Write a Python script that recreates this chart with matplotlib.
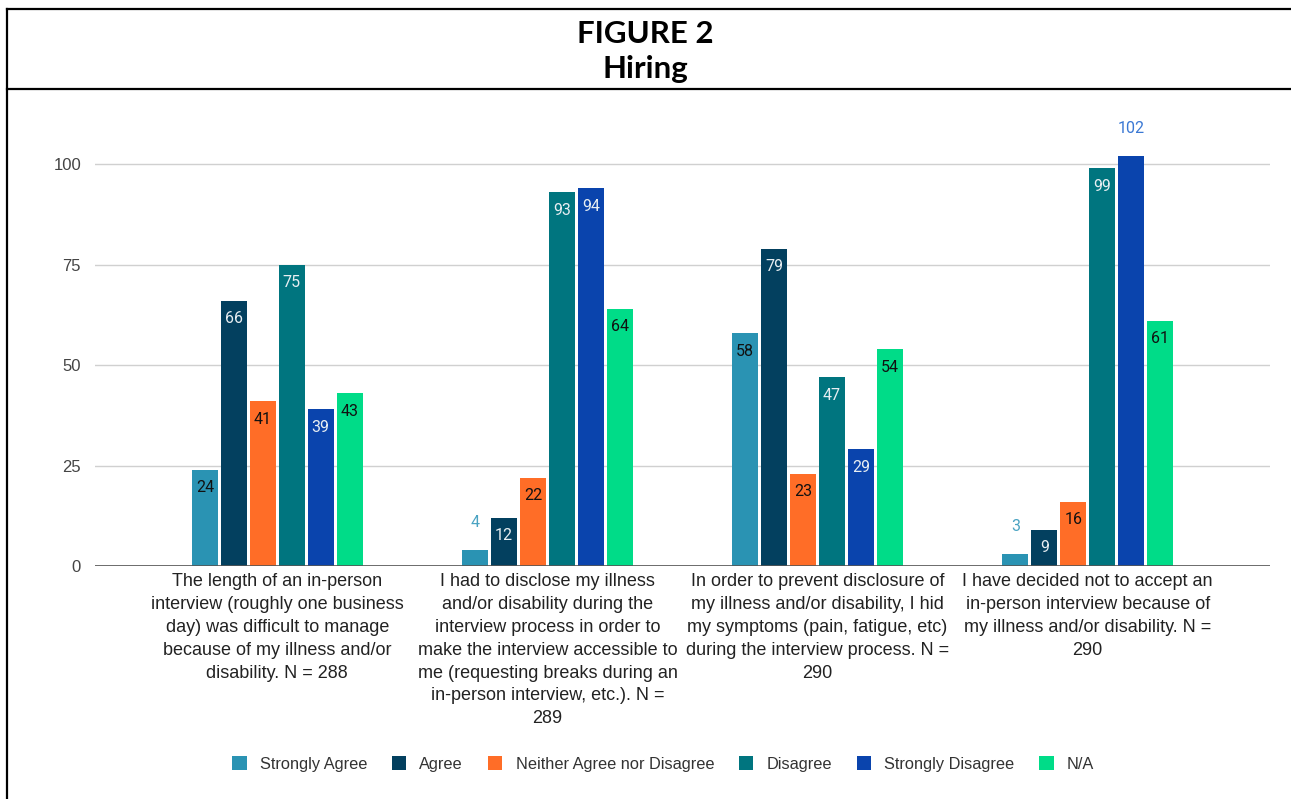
import matplotlib
matplotlib.use('Agg')
import matplotlib.pyplot as plt
from matplotlib.lines import Line2D
from matplotlib.patches import Patch
import numpy as np

categories = [
    "The length of an in-person\ninterview (roughly one business\nday) was difficult to manage\nbecause of my illness and/or\ndisability. N = 288",
    "I had to disclose my illness\nand/or disability during the\ninterview process in order to\nmake the interview accessible to\nme (requesting breaks during an\nin-person interview, etc.). N =\n289",
    "In order to prevent disclosure of\nmy illness and/or disability, I hid\nmy symptoms (pain, fatigue, etc)\nduring the interview process. N =\n290",
    "I have decided not to accept an\nin-person interview because of\nmy illness and/or disability. N =\n290",
]
series = ["Strongly Agree", "Agree", "Neither Agree nor Disagree",
          "Disagree", "Strongly Disagree", "N/A"]
strongly_agree = [24, 4, 58, 3]
agree = [66, 12, 79, 9]
neither = [41, 22, 23, 16]
disagree = [75, 93, 47, 99]
strongly_disagree = [39, 94, 29, 102]
not_applicable = [43, 64, 54, 61]
values = [strongly_agree, agree, neither, disagree, strongly_disagree, not_applicable]

colors = ["#2a93b3", "#03405f", "#ff6d27", "#00757f", "#0a44ad", "#00dc88"]
inside_text = ["#111111", "#e8eef2", "#111111", "#e8eef2", "#e8eef2", "#111111"]
outside_text = ["#4aa3c2", "#03405f", "#ff6d27", "#00757f", "#3a78d4", "#00dc88"]

W, H = 1291, 799
fig = plt.figure(figsize=(W / 100, H / 100), dpi=100)
ax = fig.add_axes([95 / W, 1 - 566 / H, 1175 / W, 442 / H])

x = np.arange(len(categories))
width = 0.096
step = 0.107
for i, (name, vals) in enumerate(zip(series, values)):
    pos = x + (i - 2.5) * step
    bars = ax.bar(pos, vals, width, color=colors[i], label=name, zorder=3)
    for b, v in zip(bars, vals):
        cx = b.get_x() + b.get_width() / 2
        if v < 6 or v > 100:
            ax.annotate(str(v), (cx, v), xytext=(0, 20), textcoords='offset points',
                        ha='center', va='center', fontsize=11.5, family='Roboto',
                        color=outside_text[i])
        else:
            ax.annotate(str(v), (cx, v), xytext=(0, -13), textcoords='offset points',
                        ha='center', va='center', fontsize=11.5, family='Roboto',
                        color=inside_text[i], zorder=4)

ax.set_xlim(-0.675, 3.675)
ax.set_ylim(0, 110)
ax.set_yticks([0, 25, 50, 75, 100])
ax.tick_params(axis='y', length=0, pad=10, labelsize=12, labelcolor='#444444')
for lab in ax.get_yticklabels():
    lab.set_family('Liberation Sans')
ax.set_xticks([])
ax.grid(axis='y', color='#d0d0d0', linewidth=1, zorder=0)
for s in ax.spines.values():
    s.set_visible(False)
ax.axhline(0, color='#555555', linewidth=1.2, zorder=4)

for xi, label in zip(x, categories):
    ax.text(xi, -1.8, label, ha='center', va='top', fontsize=13,
            family='Liberation Sans', color='#222222', linespacing=1.45)

# title
fig.text(0.5, 1 - 34 / H, "FIGURE 2", ha='center', va='center',
         fontsize=22.5, fontweight='bold', family='Lato')
fig.text(0.5, 1 - 69 / H, "Hiring", ha='center', va='center',
         fontsize=22.5, fontweight='bold', family='Lato')

# frame lines
fig.add_artist(Line2D([7 / W, 1], [1 - 9 / H, 1 - 9 / H], color='black', lw=1.6))
fig.add_artist(Line2D([7 / W, 1], [1 - 89 / H, 1 - 89 / H], color='black', lw=1.6))
fig.add_artist(Line2D([7 / W, 7 / W], [0, 1 - 9 / H], color='black', lw=1.6))

handles = [Patch(facecolor=c, label=s) for c, s in zip(colors, series)]
leg = fig.legend(handles=handles, loc='center', bbox_to_anchor=(663 / W, 1 - 764 / H),
                 ncol=6, frameon=False, handlelength=0.9, handleheight=0.9,
                 handletextpad=0.8, columnspacing=1.5,
                 prop={'family': 'Liberation Sans', 'size': 11.8})
for t in leg.get_texts():
    t.set_color('#333333')

plt.savefig('out.png', dpi=100)
